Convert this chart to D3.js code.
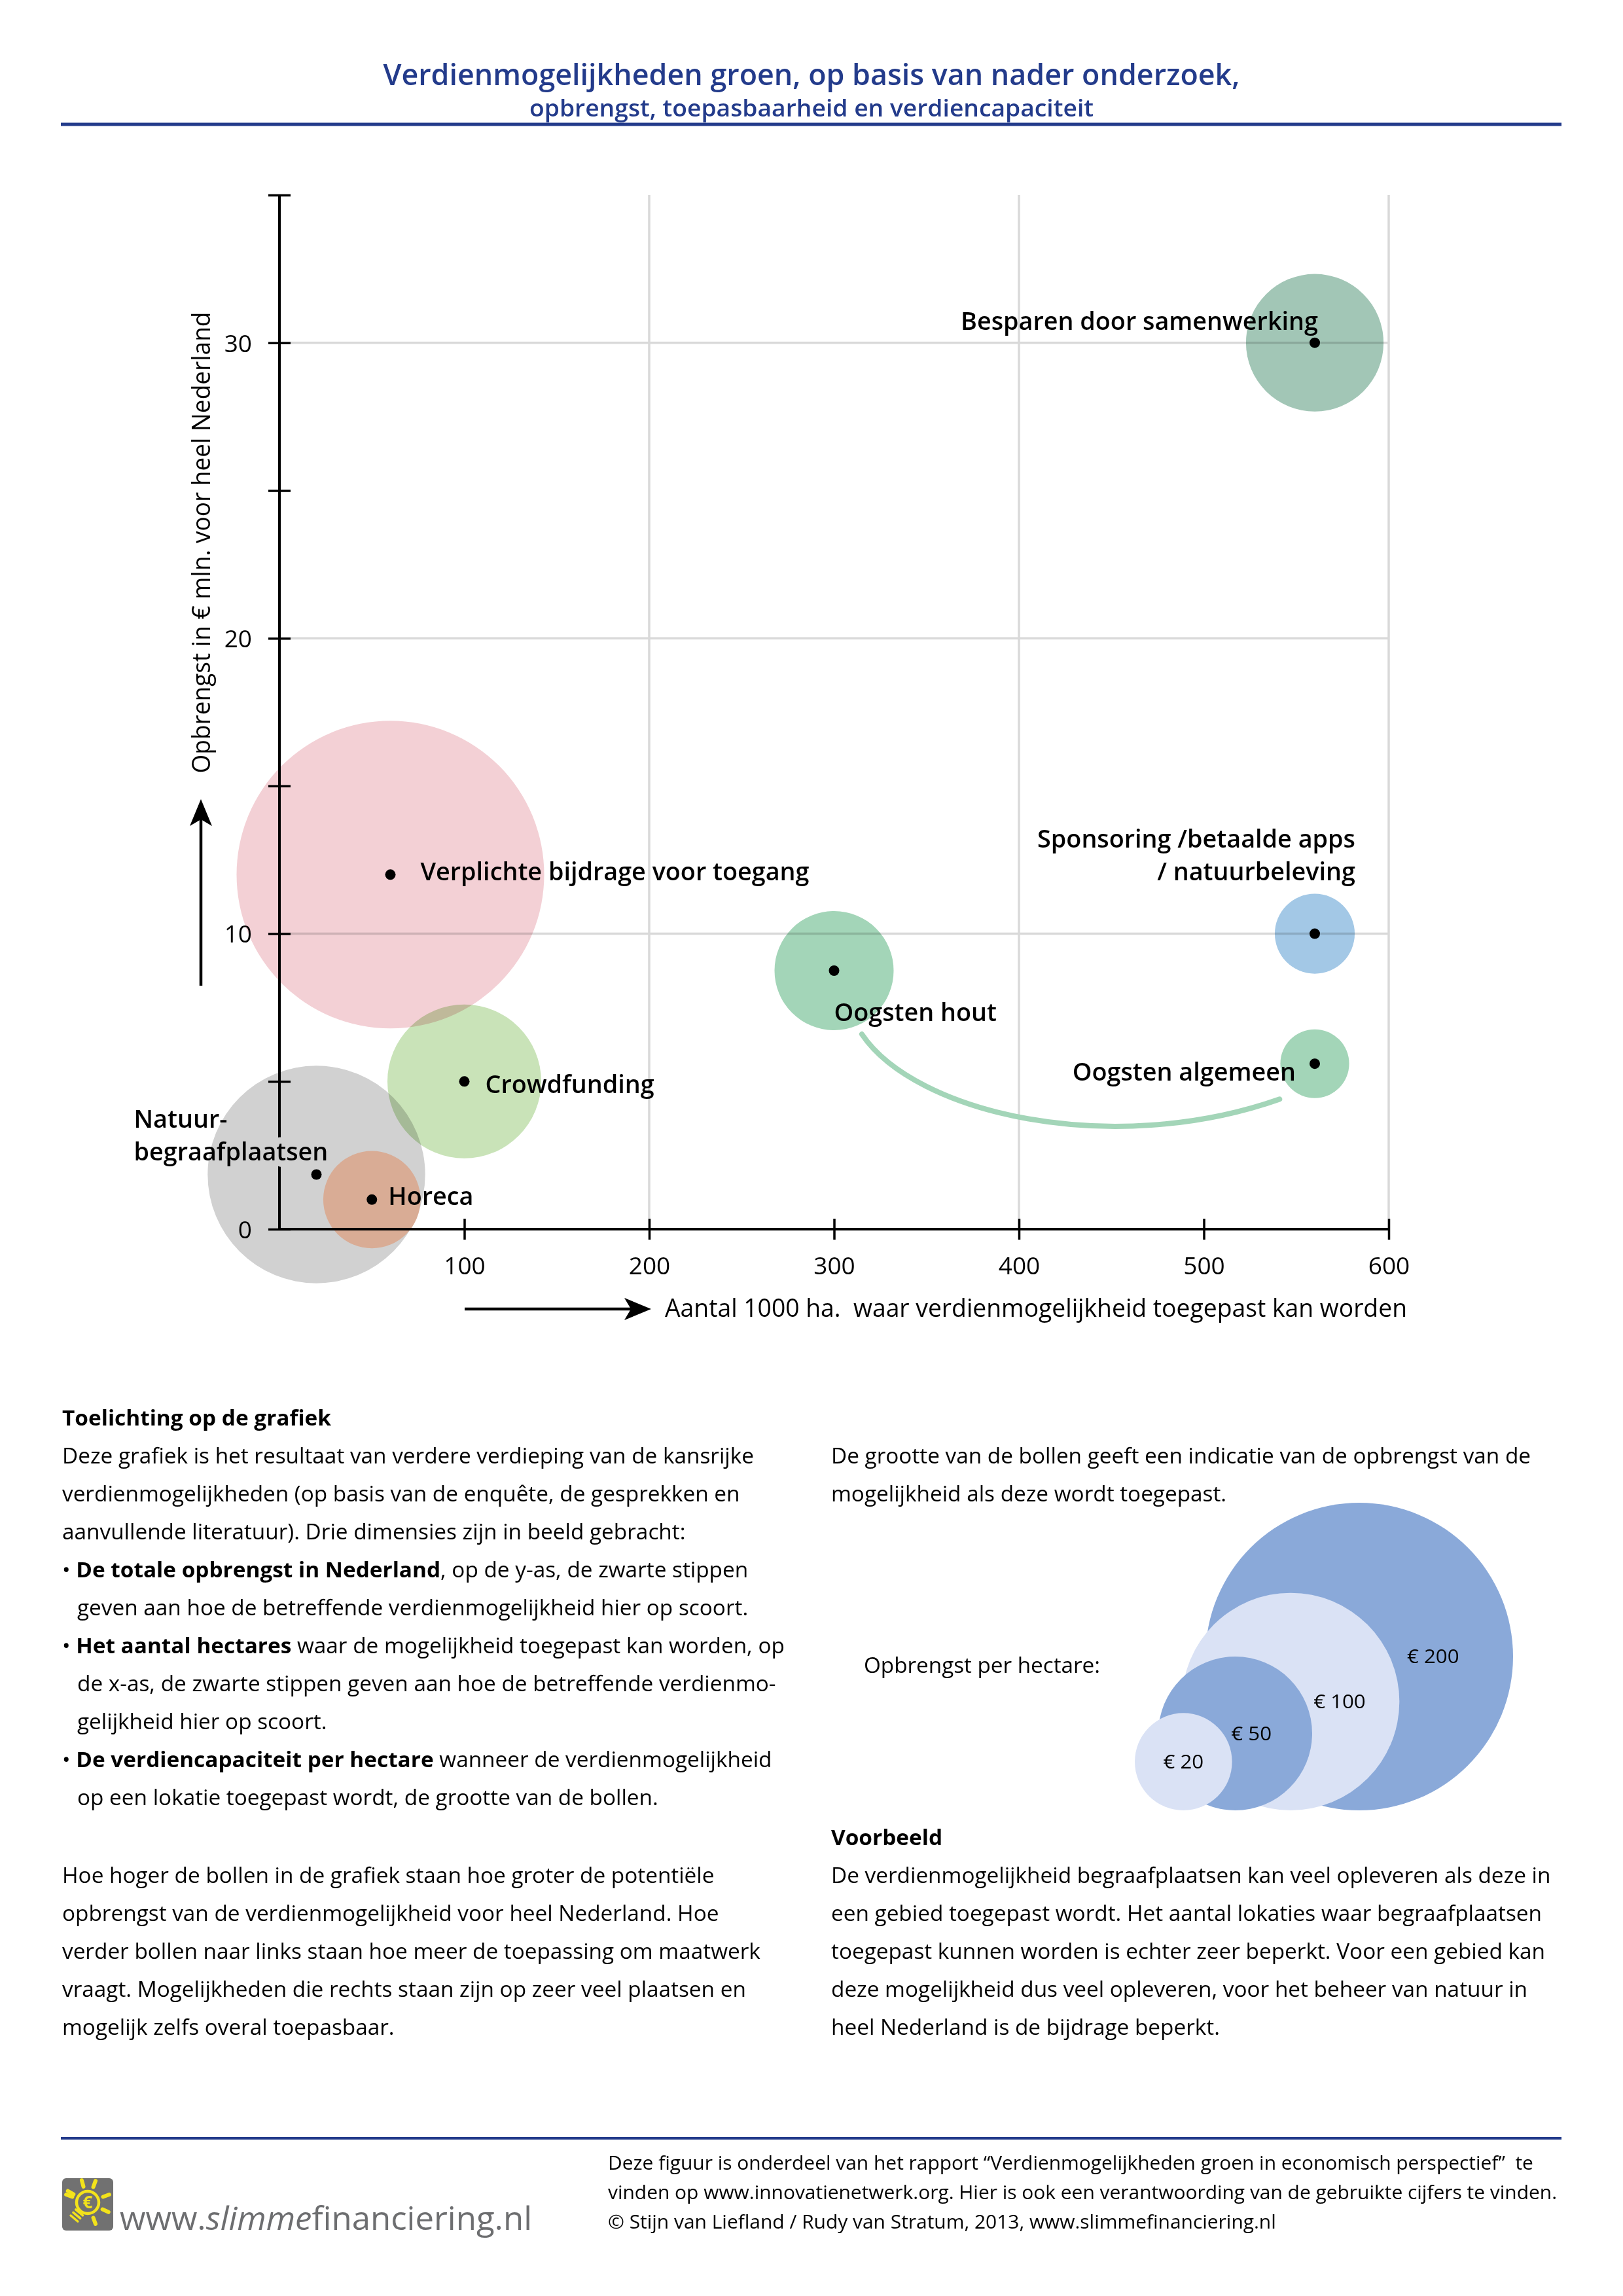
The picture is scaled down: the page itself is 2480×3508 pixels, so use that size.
<!DOCTYPE html>
<html>
<head>
<meta charset="utf-8">
<script src="https://cdn.jsdelivr.net/npm/d3@7"></script>
<style>
  body { margin: 0; background: #fff; }
  svg text { font-family: "Open Sans", sans-serif; white-space: pre; }
</style>
</head>
<body>
<svg id="page" width="2480" height="3508"></svg>
<script>
// ---- data ----
var names = [
  ["Besparen door samenwerking"],
  ["Sponsoring /betaalde apps", "/ natuurbeleving"],
  ["Oogsten hout"],
  ["Oogsten algemeen"],
  ["Verplichte bijdrage voor toegang"],
  ["Crowdfunding"],
  ["Natuur-", "begraafplaatsen"],
  ["Horeca"]
];
var hectares   = [560, 560, 300, 560, 60, 100, 20, 50];      // x 1000 ha
var opbrengst  = [30, 10, 8.75, 5.6, 12, 5, 1.85, 1];        // mln euro
var perHectare = [40, 13.5, 30, 10, 200, 50, 100, 20];       // euro / ha (bubble size)

var xTicks = [100, 200, 300, 400, 500, 600];
var yTicks = [0, 5, 10, 15, 20, 25, 30, 35];
var yTickLabels = [0, 10, 20, 30];
var xGrid = [200, 400, 600];
var yGrid = [10, 20, 30];

// link between "Oogsten hout" and "Oogsten algemeen" (data units)
var linkHout = [[315, 6.6], [344, 3.9], [450, 2.4], [541, 4.4]];

var legendValues = [200, 100, 50, 20];
var legendLabels = ["€ 200", "€ 100", "€ 50", "€ 20"];

var title = "Verdienmogelijkheden groen, op basis van nader onderzoek,";
var subtitle = "opbrengst, toepasbaarheid en verdiencapaciteit";
var yTitle = "Opbrengst in € mln. voor heel Nederland";
var xTitle = "Aantal 1000 ha.  waar verdienmogelijkheid toegepast kan worden";

var notesHeading = "Toelichting op de grafiek";
var notesLeft = [
  "Deze grafiek is het resultaat van verdere verdieping van de kansrijke",
  "verdienmogelijkheden (op basis van de enquête, de gesprekken en",
  "aanvullende literatuur). Drie dimensies zijn in beeld gebracht:",
  "• **De totale opbrengst in Nederland**, op de y-as, de zwarte stippen",
  "  geven aan hoe de betreffende verdienmogelijkheid hier op scoort.",
  "• **Het aantal hectares** waar de mogelijkheid toegepast kan worden, op",
  "  de x-as, de zwarte stippen geven aan hoe de betreffende verdienmo-",
  "  gelijkheid hier op scoort.",
  "• **De verdiencapaciteit per hectare** wanneer de verdienmogelijkheid",
  "  op een lokatie toegepast wordt, de grootte van de bollen."
];
var notesLeft2 = [
  "Hoe hoger de bollen in de grafiek staan hoe groter de potentiële",
  "opbrengst van de verdienmogelijkheid voor heel Nederland. Hoe",
  "verder bollen naar links staan hoe meer de toepassing om maatwerk",
  "vraagt. Mogelijkheden die rechts staan zijn op zeer veel plaatsen en",
  "mogelijk zelfs overal toepasbaar."
];
var notesRight = [
  "De grootte van de bollen geeft een indicatie van de opbrengst van de",
  "mogelijkheid als deze wordt toegepast."
];
var legendTitle = "Opbrengst per hectare:";
var exampleHeading = "Voorbeeld";
var notesRight2 = [
  "De verdienmogelijkheid begraafplaatsen kan veel opleveren als deze in",
  "een gebied toegepast wordt. Het aantal lokaties waar begraafplaatsen",
  "toegepast kunnen worden is echter zeer beperkt. Voor een gebied kan",
  "deze mogelijkheid dus veel opleveren, voor het beheer van natuur in",
  "heel Nederland is de bijdrage beperkt."
];
var footerLines = [
  "Deze figuur is onderdeel van het rapport “Verdienmogelijkheden groen in economisch perspectief”  te",
  "vinden op www.innovatienetwerk.org. Hier is ook een verantwoording van de gebruikte cijfers te vinden.",
  "© Stijn van Liefland / Rudy van Stratum, 2013, www.slimmefinanciering.nl"
];
var urlParts = [["www.", "normal"], ["slimme", "italic"], ["financiering.nl", "normal"]];

// ---- styles ----
var blue = "#233b8b";
var bubbleFill  = ["#a2c6b6", "#a3c8e6", "#a3d5b8", "#a3d5b8", "#f3d0d5", "#c9e3b8", "#d1d1d1", "#d9ac95"];
var bubbleBlend = ["multiply", "multiply", "multiply", "multiply", "multiply", "multiply", "multiply", "normal"];
var legendFill  = ["#8aa9d9", "#dae2f5", "#8aa9d9", "#dae2f5"];
var labelLayout = [
  {dx: 5,    dy: -20,  anchor: "end"},
  {dx: 62,   dy: -132, anchor: "end"},
  {dx: 0,    dy: 77,   anchor: "start"},
  {dx: -29,  dy: 26,   anchor: "end"},
  {dx: 46,   dy: 9,    anchor: "start"},
  {dx: 32,   dy: 18,   anchor: "start"},
  {dx: -279, dy: -71,  anchor: "start"},
  {dx: 25,   dy: 8,    anchor: "start"}
];

var svg = d3.select("#page");
var defs = svg.append("defs");

function measure(s, size, weight, style) {
  var t = svg.append("text").style("font-size", size + "px")
    .style("font-weight", weight).style("font-style", style || "normal").text(s);
  var w = t.node().getComputedTextLength();
  t.remove();
  return w;
}

// draws a text, squeezed by k (Myriad is narrower than Open Sans), returns its width
function put(g, s, x, y, o) {
  var t = g.append("text").attr("x", x).attr("y", y)
    .style("font-size", o.size + "px")
    .style("font-weight", o.weight || 400)
    .style("font-style", o.style || "normal")
    .attr("fill", o.fill || "#000")
    .text(s);
  var w = t.node().getComputedTextLength() * (o.k || 1);
  t.attr("textLength", w).attr("lengthAdjust", "spacingAndGlyphs");
  if (o.anchor === "end") t.attr("x", x - w);
  else if (o.anchor === "middle") t.attr("x", x - w / 2);
  return w;
}

// ---- header ----
put(svg, title, 1240, 130, {size: 46, weight: 600, fill: blue, anchor: "middle",
  k: 1309 / measure(title, 46, 600)});
put(svg, subtitle, 1240, 178, {size: 36, weight: 600, fill: blue, anchor: "middle",
  k: 862 / measure(subtitle, 36, 600)});
svg.append("line").attr("x1", 93).attr("x2", 2386).attr("y1", 190).attr("y2", 190)
  .attr("stroke", blue).attr("stroke-width", 5);

// ---- chart ----
var x = d3.scaleLinear().domain([0, 600]).range([427, 2122]);
var y = d3.scaleLinear().domain([0, 35]).range([1878, 298]);
var r = d3.scaleSqrt().domain([0, 200]).range([0, 235]);

var gGrid = svg.append("g"),
    gBubbles = svg.append("g"),
    gLink = svg.append("g"),
    gAxes = svg.append("g"),
    gDots = svg.append("g"),
    gLabels = svg.append("g");

gGrid.selectAll(".gy").data(yGrid).enter().append("line")
  .attr("x1", x(0)).attr("x2", x(600))
  .attr("y1", function(d) { return y(d); }).attr("y2", function(d) { return y(d); })
  .attr("stroke", "#d9d9d9").attr("stroke-width", 3.5);
gGrid.selectAll(".gx").data(xGrid).enter().append("line")
  .attr("y1", y(0)).attr("y2", y(35))
  .attr("x1", function(d) { return x(d); }).attr("x2", function(d) { return x(d); })
  .attr("stroke", "#d9d9d9").attr("stroke-width", 3.5);

var idx = d3.range(names.length);

gBubbles.selectAll("circle").data(idx).enter().append("circle")
  .attr("cx", function(i) { return x(hectares[i]); })
  .attr("cy", function(i) { return y(opbrengst[i]); })
  .attr("r", function(i) { return r(perHectare[i]); })
  .attr("fill", function(i) { return bubbleFill[i]; })
  .style("mix-blend-mode", function(i) { return bubbleBlend[i]; });

var lp = d3.path();
lp.moveTo(x(linkHout[0][0]), y(linkHout[0][1]));
lp.bezierCurveTo(x(linkHout[1][0]), y(linkHout[1][1]),
                 x(linkHout[2][0]), y(linkHout[2][1]),
                 x(linkHout[3][0]), y(linkHout[3][1]));
gLink.append("path").attr("d", lp.toString()).attr("fill", "none")
  .attr("stroke", "#a3d5b8").attr("stroke-width", 8).attr("stroke-linecap", "round");

gDots.selectAll("circle").data(idx).enter().append("circle")
  .attr("cx", function(i) { return x(hectares[i]); })
  .attr("cy", function(i) { return y(opbrengst[i]); })
  .attr("r", 8).attr("fill", "#000");

var kLabel = 594 / measure(names[4][0], 38, 600);
var gapText = null;
idx.forEach(function(i) {
  var L = labelLayout[i];
  names[i].forEach(function(line, j) {
    put(gLabels, line, x(hectares[i]) + L.dx, y(opbrengst[i]) + L.dy + j * 50,
      {size: 38, weight: 600, anchor: L.anchor, k: kLabel});
    if (i === 6 && j === 1) gapText = gLabels.select("text:last-child").node();
  });
});

// the y axis is interrupted behind "begraafplaatsen"
var mask = defs.append("mask").attr("id", "axisGap").attr("maskUnits", "userSpaceOnUse")
  .attr("x", 0).attr("y", 0).attr("width", 2480).attr("height", 3508);
mask.append("rect").attr("width", 2480).attr("height", 3508).attr("fill", "#fff");
if (gapText) {
  var c = gapText.cloneNode(true);
  mask.node().appendChild(c);
  d3.select(c).attr("fill", "#000").attr("stroke", "#000").attr("stroke-width", 20)
    .attr("stroke-linejoin", "round");
}

var gyWrap = gAxes.append("g").attr("mask", "url(#axisGap)");
var gy = gyWrap.append("g").attr("transform", "translate(" + x(0) + ",0)")
  .call(d3.axisLeft(y).tickValues(yTicks).tickSize(0)
    .tickFormat(function(d) { return yTickLabels.indexOf(d) >= 0 ? d : ""; }));
gy.select(".domain").remove();
gy.selectAll(".tick line").attr("x1", -17).attr("x2", 17)
  .attr("stroke", "#000").attr("stroke-width", 3.5);
gy.selectAll(".tick text").attr("x", -42).attr("dy", "0.36em")
  .style("font-size", "37px").attr("fill", "#000");
gy.append("line").attr("x1", 0).attr("x2", 0).attr("y1", y(0) + 2).attr("y2", y(35))
  .attr("stroke", "#000").attr("stroke-width", 4);

var gx = gAxes.append("g").attr("transform", "translate(0," + y(0) + ")")
  .call(d3.axisBottom(x).tickValues(xTicks).tickSize(0));
gx.select(".domain").remove();
gx.selectAll(".tick line").attr("y1", -16).attr("y2", 16)
  .attr("stroke", "#000").attr("stroke-width", 3.5);
gx.selectAll(".tick text").attr("y", 43).attr("dy", "0.71em")
  .style("font-size", "37px").attr("fill", "#000");
gx.append("line").attr("x1", x(0) - 2).attr("x2", x(600)).attr("y1", 0).attr("y2", 0)
  .attr("stroke", "#000").attr("stroke-width", 4);

// axis arrows and titles
var gArrow = svg.append("g").attr("fill", "#000").attr("stroke", "#000");
gArrow.append("line").attr("x1", 710).attr("x2", 965).attr("y1", 2000).attr("y2", 2000)
  .attr("stroke-width", 4.5);
gArrow.append("path").attr("stroke", "none")
  .attr("d", "M995,2000 L954,1983 L964,2000 L954,2017 Z");
gArrow.append("line").attr("x1", 307).attr("x2", 307).attr("y1", 1506).attr("y2", 1250)
  .attr("stroke-width", 4.5);
gArrow.append("path").attr("stroke", "none")
  .attr("d", "M307,1221 L290,1262 L307,1252 L324,1262 Z");

put(svg, xTitle, 1016, 2012, {size: 38, k: 1134 / measure(xTitle, 38, 400)});
var gYT = svg.append("g").attr("transform", "translate(321,829) rotate(-90)");
put(gYT, yTitle, 0, 0, {size: 39, anchor: "middle", k: 705 / measure(yTitle, 39, 400)});

// ---- text blocks ----
var kBody = 1057 / measure(notesLeft[0], 32, 400);
var kBold = 411 / measure(notesHeading, 32, 700);

function richLine(g, s, x0, yy) {
  var xx = x0;
  if (s.indexOf("  ") === 0) { xx = x0 + 23; s = s.slice(2); }
  s.split("**").forEach(function(part, j) {
    if (!part) return;
    var bold = j % 2 === 1;
    xx += put(g, part, xx, yy, {size: 32, weight: bold ? 700 : 400, k: bold ? kBold : kBody});
  });
}
function block(lines, x0, y0) {
  lines.forEach(function(s, i) { richLine(svg, s, x0, y0 + i * 58); });
}

put(svg, notesHeading, 95, 2178, {size: 32, weight: 700, k: kBold});
block(notesLeft, 95, 2236);
block(notesLeft2, 95, 2877);
block(notesRight, 1270, 2236);
put(svg, exampleHeading, 1270, 2819, {size: 32, weight: 700, k: kBold});
block(notesRight2, 1270, 2877);

// ---- bubble size legend ----
var legendLabelDx = [0.48, 0.45, 0.21, 0];
var gLeg = svg.append("g");
legendValues.forEach(function(v, i) {
  var rr = r(v), cx = 1842 - 36 * i + rr, cy = 2766 - rr;
  gLeg.append("circle").attr("cx", cx).attr("cy", cy).attr("r", rr).attr("fill", legendFill[i]);
});
legendValues.forEach(function(v, i) {
  var rr = r(v), cx = 1842 - 36 * i + rr, cy = 2766 - rr;
  put(gLeg, legendLabels[i], cx + rr * legendLabelDx[i], cy + 10,
    {size: 30, anchor: "middle", k: kBody});
});
put(svg, legendTitle, 1320, 2556, {size: 32, k: 361 / measure(legendTitle, 32, 400)});

// ---- footer ----
svg.append("line").attr("x1", 93).attr("x2", 2386).attr("y1", 3267).attr("y2", 3267)
  .attr("stroke", blue).attr("stroke-width", 4);

var kFoot = 1450 / measure(footerLines[1], 30, 400);
footerLines.forEach(function(s, i) {
  put(svg, s, 929, 3315 + i * 45, {size: 30, k: kFoot});
});

var urlNatural = d3.sum(urlParts, function(p) { return measure(p[0], 50, 400, p[1]); });
var kUrl = 630 / urlNatural, ux = 183;
urlParts.forEach(function(p) {
  ux += put(svg, p[0], ux, 3407, {size: 50, style: p[1], fill: "#6d6e70", k: kUrl});
});

// logo: grey tile with a yellow light bulb
var logo = svg.append("g");
var yellow = "#f3e31b";
logo.append("rect").attr("x", 95).attr("y", 3328).attr("width", 78).attr("height", 80)
  .attr("rx", 6).attr("fill", "#717171");
logo.append("circle").attr("cx", 134).attr("cy", 3365).attr("r", 17)
  .attr("fill", "none").attr("stroke", yellow).attr("stroke-width", 4.5);
logo.append("text").attr("x", 134).attr("y", 3374).attr("text-anchor", "middle")
  .style("font-size", "26px").style("font-weight", 700).attr("fill", yellow).text("€");
[-150, -105, -70, -20, 25, 70, 200].forEach(function(a) {
  var t = a * Math.PI / 180;
  logo.append("line")
    .attr("x1", 134 + 25 * Math.cos(t)).attr("y1", 3365 + 25 * Math.sin(t))
    .attr("x2", 134 + 35 * Math.cos(t)).attr("y2", 3365 + 35 * Math.sin(t))
    .attr("stroke", yellow).attr("stroke-width", 6).attr("stroke-linecap", "round");
});
var base = logo.append("g").attr("transform", "translate(134,3365) rotate(40)");
[20, 26, 32].forEach(function(d) {
  base.append("line").attr("x1", -7).attr("x2", 7).attr("y1", d).attr("y2", d)
    .attr("stroke", yellow).attr("stroke-width", 3.5).attr("stroke-linecap", "round");
});
</script>
</body>
</html>
